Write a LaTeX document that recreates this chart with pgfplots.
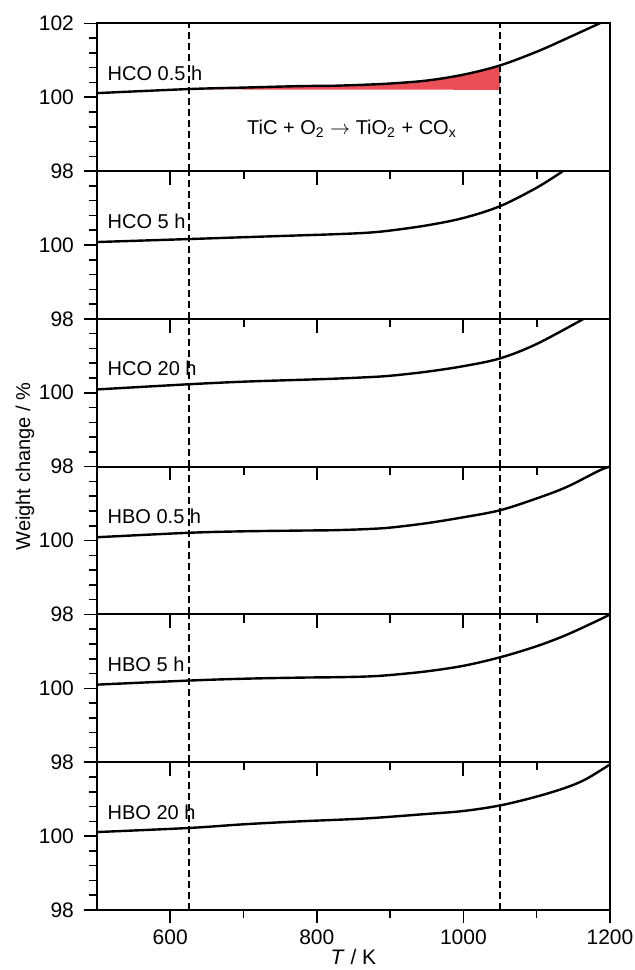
\documentclass[border=0pt]{standalone}
\usepackage{fontspec}
\setmainfont{Liberation Sans}
\usepackage{pgfplots}
\pgfplotsset{compat=1.18}
\usetikzlibrary{calc}
\definecolor{fillred}{RGB}{234,78,86}
\tikzset{lab/.style={anchor=west, font=\fontsize{10}{12}\selectfont}}
\pgfplotsset{
  panel/.style={
    scale only axis, width=256.5pt, height=73.9pt,
    xmin=500, xmax=1200, ymin=98, ymax=102,
    major tick length=6.5pt, minor tick length=3.8pt,
    every tick/.style={black, line width=0.8pt},
    axis line style={line width=1pt},
    tick label style={font=\fontsize{10.5}{13}\selectfont},
    /pgf/number format/assume math mode=true,
    /pgf/number format/1000 sep={},
    anchor=north west,
    xtick=\empty,
    ytick={98,100,102},
    minor ytick={98.4,98.8,99.2,99.6,100.4,100.8,101.2,101.6},
    tick align=outside, ytick pos=left,
    yticklabel style={xshift=-1.5pt},
    yticklabels={98,100,{}},
    clip=false,
  },
  curve/.style={black, line width=1.2pt, smooth, tension=0.55},
  vdash/.style={black, line width=1pt, dash pattern=on 3.5pt off 2pt},
}
\newcommand{\vlines}{%
  \addplot[vdash] coordinates {(625,98) (625,102)};
  \addplot[vdash] coordinates {(1050,98) (1050,102)};
}
% tick marks hanging from the upper edge (the outer x ticks of the panel above)
\newcommand{\topticks}{%
  \addplot[black, line width=1pt, forget plot] coordinates {(600,102) (600,101.63)};
  \addplot[black, line width=1pt, forget plot] coordinates {(700,102) (700,101.78)};
  \addplot[black, line width=1pt, forget plot] coordinates {(800,102) (800,101.63)};
  \addplot[black, line width=1pt, forget plot] coordinates {(900,102) (900,101.78)};
  \addplot[black, line width=1pt, forget plot] coordinates {(1000,102) (1000,101.63)};
  \addplot[black, line width=1pt, forget plot] coordinates {(1100,102) (1100,101.78)};
}
\begin{document}
\begin{tikzpicture}
% Panel 1
\begin{axis}[panel, name=p1, at={(0,0)}, yticklabels={98,100,102}, clip=true]
\addplot[fill=fillred, draw=none] coordinates {(625,100.21) (700,100.26) (777,100.30) (823,100.31) (868,100.34) (900,100.36) (950,100.45) (1000,100.61) (1050,100.86) (1050,100.2)} -- cycle;
\vlines
\addplot[curve] coordinates {(500,100.11) (625,100.22) (700,100.26) (777,100.30) (823,100.31) (868,100.34) (900,100.37) (950,100.45) (1000,100.61) (1050,100.86) (1100,101.23) (1141,101.59) (1186,102.0) (1200,102.13)};
\node[lab] at (axis cs:505,100.65) {HCO 0.5 h};
\node[font=\fontsize{10}{12}\selectfont] at (axis cs:848,99.15) {TiC + O\textsubscript{2} $\rightarrow$ TiO\textsubscript{2} + CO\textsubscript{x}};
\end{axis}
% Panel 2
\begin{axis}[panel, at={(0,-73.9pt)}]
\topticks
\vlines
\addplot[curve] coordinates {(500,100.08) (625,100.16) (700,100.21) (777,100.26) (823,100.29) (868,100.33) (900,100.39) (950,100.53) (1000,100.73) (1050,101.05) (1100,101.55) (1136,102.0)};
\node[lab] at (axis cs:505,100.65) {HCO 5 h};
\end{axis}
% Panel 3
\begin{axis}[panel, at={(0,-147.8pt)}]
\topticks
\vlines
\addplot[curve] coordinates {(500,100.09) (625,100.23) (700,100.3) (777,100.35) (823,100.38) (868,100.42) (900,100.46) (950,100.57) (1000,100.72) (1050,100.93) (1100,101.32) (1164,102.0)};
\node[lab] at (axis cs:505,100.65) {HCO 20 h};
\end{axis}
% Panel 4
\begin{axis}[panel, at={(0,-221.7pt)}]
\topticks
\vlines
\addplot[curve] coordinates {(500,100.09) (625,100.21) (700,100.25) (777,100.27) (823,100.28) (868,100.31) (900,100.35) (950,100.47) (1000,100.63) (1050,100.82) (1100,101.14) (1141,101.45) (1186,101.9) (1200,102.0)};
\node[lab] at (axis cs:505,100.65) {HBO 0.5 h};
\end{axis}
% Panel 5
\begin{axis}[panel, at={(0,-295.6pt)}]
\topticks
\vlines
\addplot[curve] coordinates {(500,100.1) (625,100.21) (700,100.26) (777,100.29) (823,100.3) (868,100.32) (900,100.36) (950,100.46) (1000,100.61) (1050,100.84) (1100,101.14) (1141,101.45) (1186,101.86) (1200,102.0)};
\node[lab] at (axis cs:505,100.65) {HBO 5 h};
\end{axis}
% Panel 6
\begin{axis}[panel, name=p6, at={(0,-369.5pt)},
  xtick={600,800,1000,1200}, minor xtick={700,900,1100}, xtick pos=left]
\topticks
\vlines
\addplot[curve] coordinates {(500,100.11) (625,100.22) (700,100.32) (777,100.4) (868,100.48) (950,100.6) (1000,100.68) (1050,100.83) (1100,101.07) (1141,101.32) (1168,101.55) (1200,101.94)};
\node[lab] at (axis cs:505,100.65) {HBO 20 h};
\end{axis}
\node[rotate=90, font=\fontsize{10}{12}\selectfont] at ($(p1.north west)!0.5!(p6.south west)+(-36pt,0)$) {Weight change / \%};
\node[font=\fontsize{10.5}{12}\selectfont] at ($(p6.south)+(0,-23.5pt)$) {\textit{T} / K};
\pgfresetboundingbox
\path ($(p1.north west)+(-48.5pt,11.65pt)$) rectangle ($(p6.south east)+(12.5pt,-30pt)$);
\end{tikzpicture}
\end{document}
